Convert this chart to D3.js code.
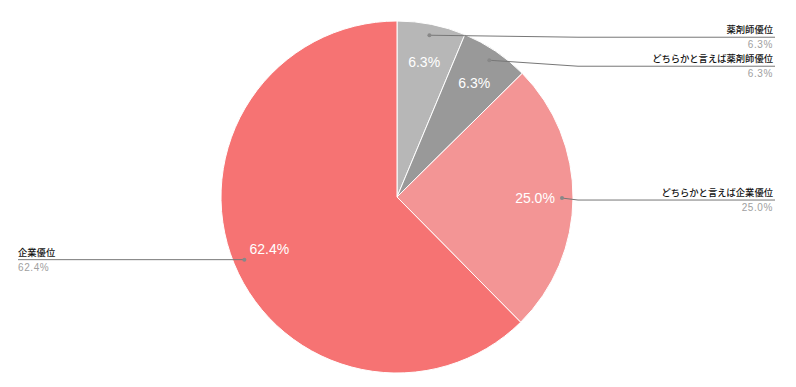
<!DOCTYPE html>
<html>
<head>
<meta charset="utf-8">
<script src="https://cdn.jsdelivr.net/npm/d3@7"></script>
<style>
  body { margin: 0; background: #fff; }
  svg { display: block; }
</style>
</head>
<body>
<div id="chart"></div>
<script>
// slices, clockwise from 12 o'clock
const categories = ["薬剤師優位", "どちらかと言えば薬剤師優位", "どちらかと言えば企業優位", "企業優位"];
const values = [6.3, 6.3, 25.0, 62.4];
const valueLabels = ["6.3%", "6.3%", "25.0%", "62.4%"];
const colors = ["#b7b7b7", "#999999", "#f39595", "#f67373"];

const width = 796, height = 387;
const cx = 397, cy = 197, radius = 176;

const svg = d3.select("#chart").append("svg")
    .attr("width", width)
    .attr("height", height);

const g = svg.append("g").attr("transform", `translate(${cx},${cy})`);

const pie = d3.pie().sort(null).value(d => d);
const arcs = pie(values);

const arc = d3.arc().innerRadius(0).outerRadius(radius);
const labelArc = d3.arc().innerRadius(138).outerRadius(138);
const dotArc = d3.arc().innerRadius(165).outerRadius(165);

g.selectAll("path.slice")
    .data(arcs)
    .enter()
    .append("path")
    .attr("class", "slice")
    .attr("d", arc)
    .attr("fill", (d, i) => colors[i])
    .attr("stroke", "#fff")
    .attr("stroke-width", 1);

g.selectAll("text.inside")
    .data(arcs)
    .enter()
    .append("text")
    .attr("class", "inside")
    .attr("transform", d => `translate(${labelArc.centroid(d)})`)
    .attr("text-anchor", "middle")
    .attr("dy", "0.35em")
    .attr("fill", "#fff")
    .style("font-family", "'Liberation Sans', Arial, sans-serif")
    .style("font-size", "14px")
    .text((d, i) => valueLabels[i]);

// leader lines and outside labels
const leftEnd = 18 - cx, rightEnd = 775 - cx;
let lastRightY = -Infinity;
arcs.forEach((d, i) => {
    const [dx, dy] = dotArc.centroid(d);
    const mid = (d.startAngle + d.endAngle) / 2;
    const right = mid < Math.PI;
    let ly = right ? dy + 2 : dy;
    if (right) {
        if (ly < lastRightY + 29) ly = lastRightY + 29;
        lastRightY = ly;
    }
    const bendX = right ? radius + 5 : -radius - 5;
    const endX = right ? rightEnd : leftEnd;

    g.append("polyline")
        .attr("points", [[dx, dy], [bendX, ly], [endX, ly]].map(p => p.join(",")).join(" "))
        .attr("fill", "none")
        .attr("stroke", "#777")
        .attr("stroke-width", 1);

    g.append("circle")
        .attr("cx", dx)
        .attr("cy", dy)
        .attr("r", 2)
        .attr("fill", "#888");

    const anchor = right ? "end" : "start";
    const tx = right ? endX - 2 : endX;

    g.append("text")
        .attr("x", tx)
        .attr("y", ly - 4)
        .attr("text-anchor", anchor)
        .attr("fill", "#111")
        .style("font-family", "'Noto Sans CJK JP', sans-serif")
        .style("font-size", "9.3px")
        .style("font-weight", "500")
        .text(categories[i]);

    g.append("text")
        .attr("x", tx)
        .attr("y", ly + 11)
        .attr("text-anchor", anchor)
        .attr("fill", "#a0a0a0")
        .style("font-family", "'Liberation Sans', Arial, sans-serif")
        .style("font-size", "10px")
        .style("letter-spacing", "0.6px")
        .text(valueLabels[i]);
});
</script>
</body>
</html>
